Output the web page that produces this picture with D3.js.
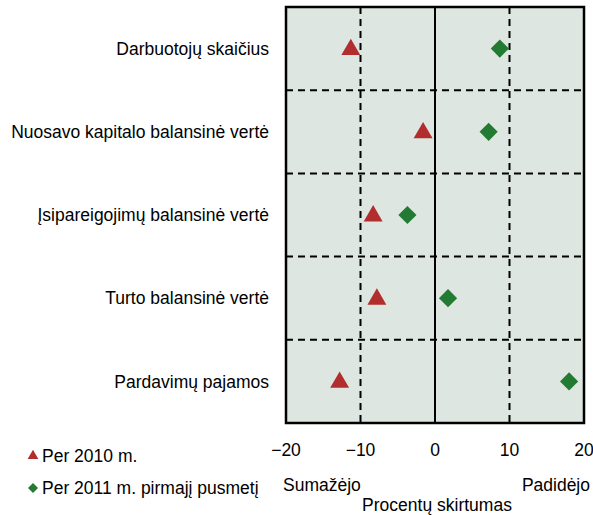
<!DOCTYPE html>
<html lang="lt">
<head>
  <meta charset="utf-8">
  <title>Procentų skirtumas</title>
  <script src="https://d3js.org/d3.v7.min.js"></script>
  <style>
    body { margin: 0; background: #fff; }
    text { font-family: "Liberation Sans", Arial, sans-serif; fill: #000; }
  </style>
</head>
<body>
  <div id="chart"></div>
  <script>
    // Data
    var categories = ["Darbuotojų skaičius", "Nuosavo kapitalo balansinė vertė",
      "Įsipareigojimų balansinė vertė", "Turto balansinė vertė", "Pardavimų pajamos"];
    var values2010 = [-11.3, -1.6, -8.3, -7.8, -12.8];
    var values2011 = [8.7, 7.2, -3.7, 1.75, 18.0];
    var xTicks = [-20, -10, 0, 10, 20];

    var width = 593, height = 515;
    var margin = { top: 7, right: 9, bottom: 92, left: 286 };
    var plotW = width - margin.left - margin.right,
      plotH = height - margin.top - margin.bottom;
    var fs = 17.5;

    var svg = d3.select("#chart").append("svg")
      .attr("width", width).attr("height", height);

    var g = svg.append("g")
      .attr("transform", "translate(" + margin.left + "," + margin.top + ")");

    var x = d3.scaleLinear().domain([-20, 20]).range([0, plotW]);
    var y = d3.scaleBand().domain(categories).range([0, plotH]);

    // background
    g.append("rect").attr("width", plotW).attr("height", plotH).attr("fill", "#dde6e0");

    // vertical dashed grid
    g.selectAll(".vgrid").data([-10, 10]).enter().append("line")
      .attr("x1", d => x(d)).attr("x2", d => x(d))
      .attr("y1", 0).attr("y2", plotH)
      .attr("stroke", "#000").attr("stroke-width", 2).attr("stroke-dasharray", "7,5");

    // horizontal dashed separators
    g.selectAll(".hgrid").data(categories.slice(1)).enter().append("line")
      .attr("x1", 0).attr("x2", plotW)
      .attr("y1", d => y(d)).attr("y2", d => y(d))
      .attr("stroke", "#000").attr("stroke-width", 2).attr("stroke-dasharray", "7,5");

    // zero line
    g.append("line").attr("x1", x(0)).attr("x2", x(0)).attr("y1", 0).attr("y2", plotH)
      .attr("stroke", "#000").attr("stroke-width", 2);

    // frame
    g.append("rect").attr("width", plotW).attr("height", plotH)
      .attr("fill", "none").attr("stroke", "#000").attr("stroke-width", 2.5);

    var tri = d3.symbol().type(d3.symbolTriangle).size(155);
    var dia = d3.symbol().type(d3.symbolSquare).size(165);

    g.selectAll(".t").data(values2010).enter().append("path")
      .attr("d", tri)
      .attr("transform", (d, i) => "translate(" + x(d) + "," + (y(categories[i]) + y.bandwidth() / 2 + 1) + ")")
      .attr("fill", "#b22e2e");

    g.selectAll(".d").data(values2011).enter().append("path")
      .attr("d", dia)
      .attr("transform", (d, i) => "translate(" + x(d) + "," + (y(categories[i]) + y.bandwidth() / 2) + ") rotate(45)")
      .attr("fill", "#237a33");

    // category labels
    svg.selectAll(".cat").data(categories).enter().append("text")
      .attr("x", margin.left - 17)
      .attr("y", d => margin.top + y(d) + y.bandwidth() / 2)
      .attr("dy", "0.35em")
      .attr("text-anchor", "end")
      .attr("font-size", fs)
      .text(d => d);

    // x tick labels
    svg.selectAll(".tick").data(xTicks).enter().append("text")
      .attr("x", d => margin.left + x(d))
      .attr("y", 450).attr("dy", "0.35em")
      .attr("text-anchor", "middle")
      .attr("font-size", fs)
      .text(d => d < 0 ? "\u2212" + Math.abs(d) : d);

    svg.append("text").attr("x", 283).attr("y", 485).attr("dy", "0.35em")
      .attr("font-size", fs).text("Sumažėjo");
    svg.append("text").attr("x", 590).attr("y", 485).attr("dy", "0.35em")
      .attr("text-anchor", "end").attr("font-size", fs).text("Padidėjo");
    svg.append("text").attr("x", 437).attr("y", 505).attr("dy", "0.35em")
      .attr("text-anchor", "middle").attr("font-size", fs).text("Procentų skirtumas");

    // legend
    var legend = [
      { label: "Per 2010 m.", sym: tri, color: "#b22e2e", rot: 0, yy: 456 },
      { label: "Per 2011 m. pirmajį pusmetį", sym: dia, color: "#237a33", rot: 45, yy: 488 }
    ];
    legend.forEach(function (l) {
      svg.append("path")
        .attr("d", l.sym.size(50)())
        .attr("transform", "translate(33," + l.yy + ") rotate(" + l.rot + ")")
        .attr("fill", l.color);
      svg.append("text").attr("x", 42).attr("y", l.yy).attr("dy", "0.35em")
        .attr("font-size", fs).text(l.label);
    });
  </script>
</body>
</html>
